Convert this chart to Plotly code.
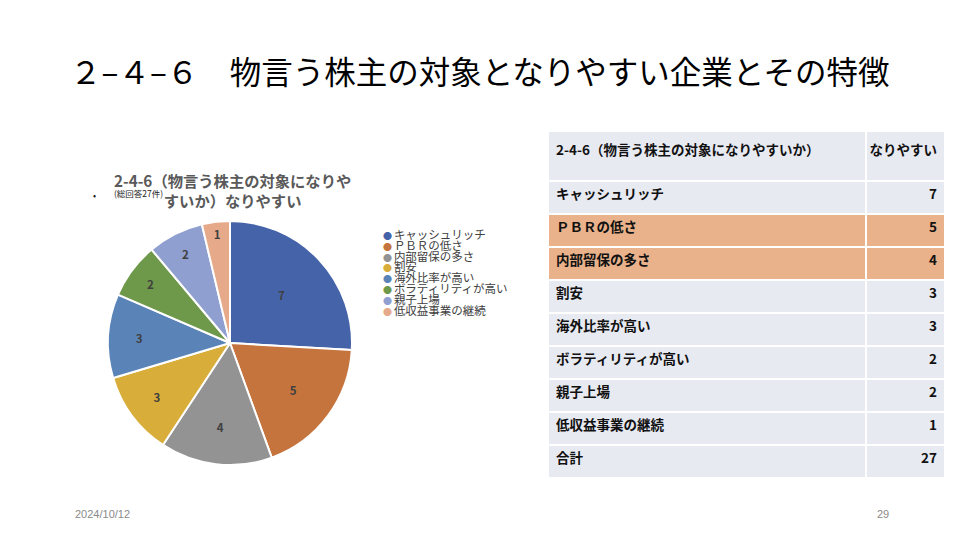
import plotly.graph_objects as go

categories = ["キャッシュリッチ", "ＰＢＲの低さ", "内部留保の多さ", "割安", "海外比率が高い",
              "ボラティリティが高い", "親子上場", "低収益事業の継続"]
values = [7, 5, 4, 3, 3, 2, 2, 1]
colors = ["#4563A8", "#C5743D", "#939393", "#D8AD3A", "#5A84B8", "#6E994B", "#8F9FD0", "#E6A98A"]
total_label = "合計"
total_value = 27
table_header = ["2-4-6（物言う株主の対象になりやすいか）", "なりやすい"]
highlight_rows = [1, 2]

W, H = 960, 540
def px(x): return x / W
def py(y): return 1 - y / H

font_jp = "Noto Sans CJK JP, Noto Sans, sans-serif"

fig = go.Figure()

fig.add_trace(go.Pie(
    labels=categories, values=values, sort=False, direction="clockwise", rotation=0,
    marker=dict(colors=colors, line=dict(color="white", width=2)),
    textinfo="value", textposition="inside", insidetextorientation="horizontal",
    textfont=dict(family=font_jp, size=11.5, color="#404040", weight="bold"),
    showlegend=False, hoverinfo="label+value",
    domain=dict(x=[px(108), px(352)], y=[py(466), py(220)]),
))

# table
base_fill = "#E8EAF2"
hi_fill = "#E9B28A"
col1 = list(categories) + [total_label]
col2 = [str(v) for v in values] + [str(total_value)]
fills = [hi_fill if i in highlight_rows else base_fill for i in range(len(col1))]

fig.add_trace(go.Table(
    domain=dict(x=[px(548), px(945)], y=[py(478), py(131)]),
    columnwidth=[317, 79],
    header=dict(values=["<br>" + h for h in table_header],
                fill_color=base_fill, line=dict(color="white", width=2),
                align=["left", "right"], height=50,
                font=dict(family=font_jp, size=13.5, color="#111111", weight="bold")),
    cells=dict(values=[col1, col2], fill_color=[fills, fills],
               line=dict(color="white", width=2), align=["left", "right"], height=33,
               font=dict(family=font_jp, size=13.5, color="#111111", weight="bold")),
))

ann = []
# chart title
ann.append(dict(x=px(232), y=py(190), xref="paper", yref="paper", xanchor="center", yanchor="middle",
                text="<b>2-4-6（物言う株主の対象になりや<br>すいか）なりやすい</b>", showarrow=False,
                font=dict(family=font_jp, size=15.3, color="#595959")))
ann.append(dict(x=px(112), y=py(193), xref="paper", yref="paper", xanchor="left", yanchor="middle",
                text="(総回答27件)", showarrow=False,
                font=dict(family=font_jp, size=8.5, color="#222222")))
ann.append(dict(x=px(94), y=py(195), xref="paper", yref="paper", xanchor="center", yanchor="middle",
                text="•", showarrow=False, font=dict(family=font_jp, size=9, color="#222222")))
# legend (one text block, tight line spacing)
legend_lines = ['<span style="color:%s;font-size:9px">●</span> <span style="font-size:11.5px">%s</span>' % (col, c)
                for c, col in zip(categories, colors)]
ann.append(dict(x=px(381), y=py(224), xref="paper", yref="paper", xanchor="left", yanchor="top",
                align="left", text="<br>".join(legend_lines), showarrow=False,
                font=dict(family=font_jp, size=8.3, color="#404040")))
# footer
ann.append(dict(x=px(73), y=py(514), xref="paper", yref="paper", xanchor="left", yanchor="middle",
                text="2024/10/12", showarrow=False, font=dict(family="Liberation Sans, Arial", size=11, color="#8A8A8A")))
ann.append(dict(x=px(883), y=py(514), xref="paper", yref="paper", xanchor="center", yanchor="middle",
                text="29", showarrow=False, font=dict(family="Liberation Sans, Arial", size=11, color="#8A8A8A")))

fig.update_layout(
    width=W, height=H, margin=dict(l=0, r=0, t=0, b=0),
    paper_bgcolor="white", plot_bgcolor="white",
    title=dict(text="２–４–６　物言う株主の対象となりやすい企業とその特徴",
               x=px(70), xanchor="left", y=py(73), yanchor="middle", xref="paper", yref="paper",
               font=dict(family=font_jp, size=31.5, color="#000000")),
    annotations=ann,
)

fig.write_html("out.html")
